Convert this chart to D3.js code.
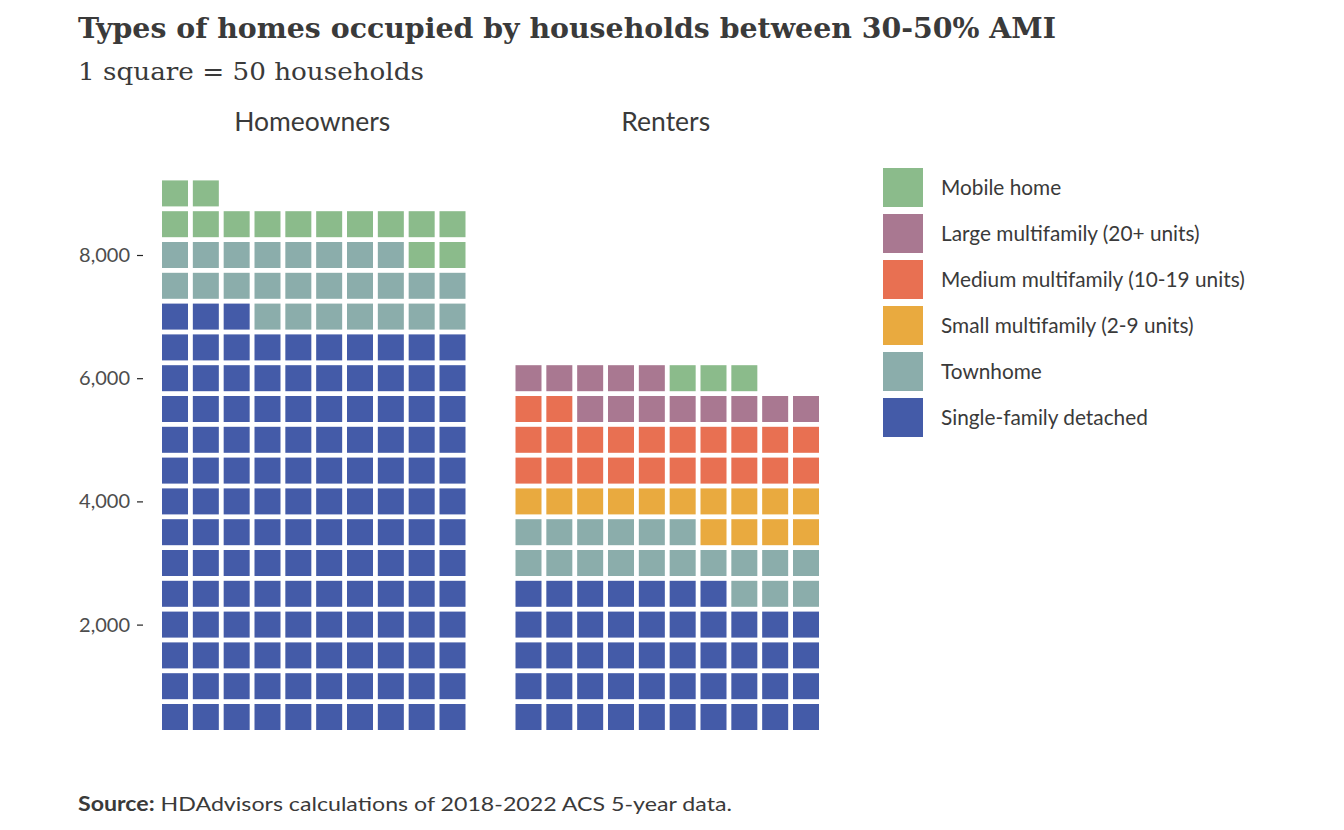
<!DOCTYPE html>
<html>
<head>
<meta charset="utf-8">
<script src="https://cdn.jsdelivr.net/npm/d3@7"></script>
<style>
  html, body { margin: 0; padding: 0; background: #fff; }
  svg { display: block; }
</style>
</head>
<body>
<svg id="chart" width="1344" height="830"></svg>
<script>
// ---- Data ----
const categories = [
  "Single-family detached",
  "Townhome",
  "Small multifamily (2-9 units)",
  "Medium multifamily (10-19 units)",
  "Large multifamily (20+ units)",
  "Mobile home"
];
const colors = ["#445ba8", "#8badab", "#e9aa3f", "#e87052", "#a97891", "#8bbb8b"];
const tenures = ["Homeowners", "Renters"];
const homeownerHouseholds = [6650, 1250, 0, 0, 0, 700];
const renterHouseholds = [2350, 950, 700, 1100, 650, 150];
const householdsPerSquare = 50;
const squaresPerRow = 10;
const yTicks = [2000, 4000, 6000, 8000];
const legendOrder = [
  "Mobile home",
  "Large multifamily (20+ units)",
  "Medium multifamily (10-19 units)",
  "Small multifamily (2-9 units)",
  "Townhome",
  "Single-family detached"
];

const svg = d3.select("#chart");
const textCol = "#3a3a3a";

// ---- Scales ----
const rowValue = squaresPerRow * householdsPerSquare; // 500 per row
const y = d3.scaleLinear().domain([500, 8000]).range([717, 255]);
const panelX = d3.scalePoint().domain(tenures).range([175, 528.5]);
const colX = d3.scaleLinear().domain([0, 9]).range([0, 277.5]);
const color = d3.scaleOrdinal().domain(categories).range(colors);
const sq = 26;

// ---- Build squares ----
const series = { "Homeowners": homeownerHouseholds, "Renters": renterHouseholds };
const cells = [];
tenures.forEach(t => {
  let idx = 0;
  series[t].forEach((v, ci) => {
    const n = Math.round(v / householdsPerSquare);
    for (let k = 0; k < n; k++) {
      cells.push({ tenure: t, cat: categories[ci], row: Math.floor(idx / squaresPerRow), col: idx % squaresPerRow });
      idx++;
    }
  });
});

svg.append("g").selectAll("rect").data(cells).join("rect")
  .attr("x", d => panelX(d.tenure) + colX(d.col) - sq / 2)
  .attr("y", d => y((d.row + 1) * rowValue) - sq / 2)
  .attr("width", sq)
  .attr("height", sq)
  .attr("fill", d => color(d.cat));

// ---- Facet labels ----
svg.append("g").selectAll("text").data(tenures).join("text")
  .attr("x", d => panelX(d) + colX(4.5) - 1.5)
  .attr("y", 131)
  .attr("text-anchor", "middle")
  .attr("font-family", "Lato, sans-serif")
  .attr("font-size", 26.5)
  .attr("fill", textCol)
  .text(d => d);

// ---- Y axis ----
const yAxis = d3.axisLeft(y).tickValues(yTicks).tickFormat(d3.format(",")).tickSize(6).tickPadding(7);
const ax = svg.append("g").attr("transform", "translate(143,0)").call(yAxis);
ax.select(".domain").remove();
ax.selectAll(".tick line").attr("stroke", "#222").attr("stroke-width", 1.2);
ax.selectAll(".tick text")
  .attr("font-family", "Lato, sans-serif")
  .attr("font-size", 20)
  .attr("fill", "#4d4d4d");

// ---- Legend ----
const lg = svg.append("g").selectAll("g").data(legendOrder).join("g")
  .attr("transform", (d, i) => `translate(883, ${168 + i * 46})`);
lg.append("rect").attr("width", 40).attr("height", 39).attr("fill", d => color(d));
lg.append("text")
  .attr("x", 58).attr("y", 20).attr("dy", "0.35em")
  .attr("font-family", "Lato, sans-serif")
  .attr("font-size", 20.8)
  .attr("fill", textCol)
  .text(d => d);

// ---- Titles ----
svg.append("text")
  .attr("x", 78).attr("y", 38)
  .attr("font-family", "'Roboto Slab', 'DejaVu Serif', serif")
  .attr("font-weight", "bold")
  .attr("font-size", 28)
  .attr("fill", textCol)
  .attr("textLength", 978)
  .attr("lengthAdjust", "spacingAndGlyphs")
  .text("Types of homes occupied by households between 30-50% AMI");

svg.append("text")
  .attr("x", 78).attr("y", 80)
  .attr("font-family", "'Roboto Slab', 'DejaVu Serif', serif")
  .attr("font-size", 25)
  .attr("fill", textCol)
  .attr("textLength", 346)
  .attr("lengthAdjust", "spacingAndGlyphs")
  .text("1 square = 50 households");

// ---- Caption ----
const cap = svg.append("text")
  .attr("x", 78).attr("y", 811)
  .attr("font-family", "Lato, sans-serif")
  .attr("font-size", 20)
  .attr("fill", textCol)
  .attr("textLength", 654)
  .attr("lengthAdjust", "spacingAndGlyphs");
cap.append("tspan").attr("font-weight", "bold").text("Source:");
cap.append("tspan").text(" HDAdvisors calculations of 2018-2022 ACS 5-year data.");
</script>
</body>
</html>
